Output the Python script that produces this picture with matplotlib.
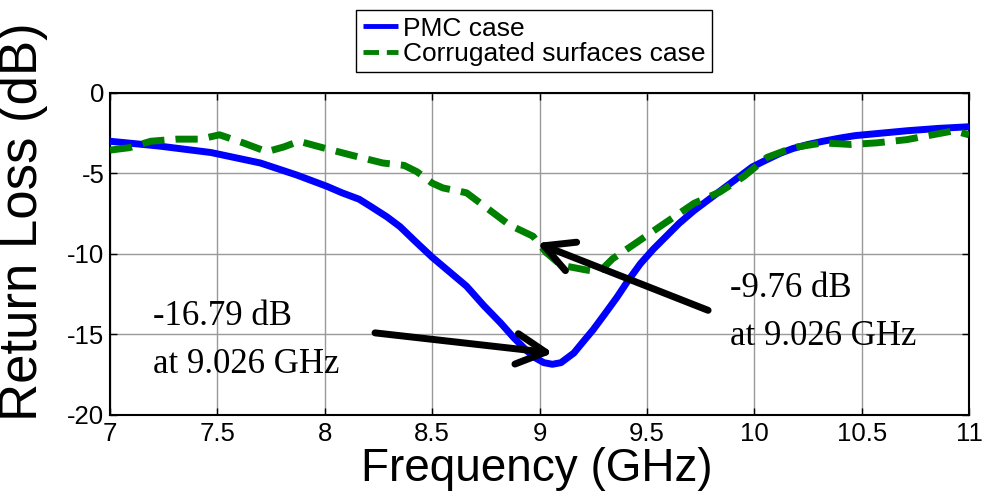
import matplotlib
matplotlib.use('Agg')
from matplotlib import pyplot as plt

# PMC case (solid blue)
pmc_freq = [7.0, 7.23, 7.47, 7.7, 7.87, 8.01, 8.08, 8.16, 8.22, 8.29, 8.35, 8.42, 8.5, 8.58,
            8.66, 8.74, 8.82, 8.88, 8.94, 8.98, 9.02, 9.06, 9.1, 9.16, 9.2, 9.25, 9.3, 9.36,
            9.41, 9.47, 9.53, 9.59, 9.65, 9.72, 9.8, 9.87, 9.93, 9.99, 10.05, 10.12, 10.18,
            10.25, 10.32, 10.4, 10.47, 10.55, 10.63, 10.71, 10.78, 10.86, 10.93, 11.0]
pmc_db = [-3.0, -3.3, -3.7, -4.35, -5.1, -5.8, -6.2, -6.6, -7.1, -7.7, -8.3, -9.2, -10.2, -11.1,
          -12.0, -13.2, -14.3, -15.2, -16.0, -16.45, -16.75, -16.85, -16.75, -16.15, -15.5, -14.7,
          -13.8, -12.7, -11.7, -10.6, -9.7, -8.9, -8.1, -7.3, -6.5, -5.8, -5.2, -4.6, -4.2,
          -3.75, -3.45, -3.2, -3.0, -2.8, -2.65, -2.55, -2.45, -2.35, -2.28, -2.2, -2.15, -2.1]

# corrugated surfaces case (dashed green)
cor_freq = [7.0, 7.09, 7.19, 7.31, 7.42, 7.51, 7.62, 7.73, 7.81, 7.88, 7.99, 8.12, 8.27,
            8.37, 8.43, 8.5, 8.55, 8.66, 8.77, 8.86, 8.97, 9.03, 9.1, 9.22, 9.28, 9.34,
            9.44, 9.56, 9.72, 9.84, 9.95, 10.06, 10.18, 10.32, 10.45, 10.57, 10.71,
            10.83, 10.93, 11.0]
cor_db = [-3.55, -3.4, -3.0, -2.87, -2.87, -2.6, -3.1, -3.65, -3.35, -3.0, -3.4, -3.85, -4.35,
          -4.5, -4.9, -5.6, -5.9, -6.2, -7.3, -8.2, -8.9, -9.9, -10.7, -11.0, -11.1, -10.3,
          -9.4, -8.3, -6.85, -6.15, -5.2, -4.0, -3.4, -3.1, -3.2, -3.1, -2.9,
          -2.6, -2.35, -2.6]

xticks = [7, 7.5, 8, 8.5, 9, 9.5, 10, 10.5, 11]
xtick_labels = ['7', '7.5', '8', '8.5', '9', '9.5', '10', '10.5', '11']
yticks = [-20, -15, -10, -5, 0]

plt.rcParams['font.family'] = 'Liberation Sans'
plt.rcParams['axes.unicode_minus'] = False

fig = plt.figure(figsize=(9.84, 4.97), dpi=100)
ax = fig.add_axes([0.1118, 0.165, 0.873, 0.648])

ax.plot(pmc_freq, pmc_db, color='#0000ff', lw=5, solid_joinstyle='round',
        solid_capstyle='butt', label='PMC case', zorder=3)
ax.plot(cor_freq, cor_db, color='#008000', lw=5, dashes=(3.2, 1.6),
        label='Corrugated surfaces case', zorder=4)

ax.set_xlim(7, 11)
ax.set_ylim(-20, 0)
ax.set_xticks(xticks)
ax.set_xticklabels(xtick_labels)
ax.set_yticks(yticks)
ax.grid(True, color='#999999', lw=1)
ax.tick_params(direction='in', top=True, right=True, length=5, labelsize=18.5, width=1)
ax.tick_params(axis='x', pad=5)
ax.tick_params(axis='y', pad=4)
for s in ax.spines.values():
    s.set_linewidth(1.5)

ax.set_xlabel('Frequency (GHz)', fontsize=33)
ax.xaxis.set_label_coords(0.497, -0.1)
ax.set_ylabel('Return Loss (dB)', fontsize=38)
ax.yaxis.set_label_coords(-0.072, 0.6)

# annotations
arrow = dict(arrowstyle='->,head_length=1.05,head_width=0.55', lw=5, color='k',
             mutation_scale=20, shrinkA=0, shrinkB=0)
ax.annotate('', xy=(9.063, -16.15), xytext=(8.234, -14.9), arrowprops=arrow, zorder=5)
ax.annotate('', xy=(8.988, -9.32), xytext=(9.785, -13.5), arrowprops=arrow, zorder=5)

serif = dict(family='Liberation Serif', fontsize=25, va='baseline', ha='left')
ax.text(7.2, -14.41, '-16.79 dB', **serif)
ax.text(7.2, -17.39, 'at 9.026 GHz', **serif)
ax.text(9.887, -12.67, '-9.76 dB', **serif)
ax.text(9.887, -15.65, 'at 9.026 GHz', **serif)

leg = ax.legend(loc='upper left', bbox_to_anchor=(0.3618, 0.98), bbox_transform=fig.transFigure,
                fontsize=19, fancybox=False, edgecolor='k', framealpha=1, borderaxespad=0,
                handlelength=1.33, handletextpad=0.2, labelspacing=0.05, borderpad=0.25)
leg.get_frame().set_linewidth(1)
for line in leg.get_lines():
    line.set_linewidth(3.5)

fig.savefig('out.png', dpi=100)
